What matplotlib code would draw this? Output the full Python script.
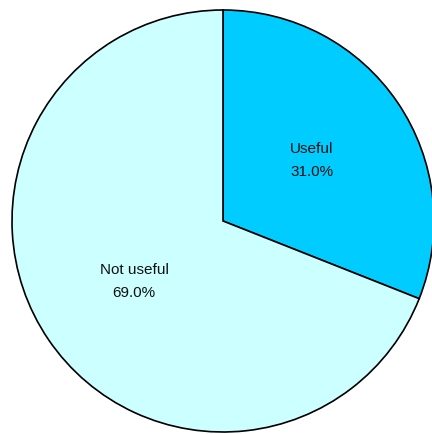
import matplotlib.pyplot as plt
import numpy as np

categories = ["Useful", "Not useful"]
shares = [31.0, 69.0]
colors = ["#00CCFF", "#CCFFFF"]

plt.rcParams["font.family"] = ["Liberation Sans", "DejaVu Sans"]

W, H = 432, 434
CX, CY, R = 223, H - 221, 211

fig = plt.figure(figsize=(W / 100, H / 100), dpi=100)
ax = fig.add_axes([0, 0, 1, 1])

wedges = ax.pie(
    shares,
    colors=colors,
    startangle=90,
    counterclock=False,
    center=(CX, CY),
    radius=R,
    wedgeprops={"edgecolor": "black", "linewidth": 1.2},
    frame=True,
)[0]
ax.set_xlim(0, W)
ax.set_ylim(0, H)
ax.set_aspect("equal")
ax.axis("off")

# labels sit about halfway out along each wedge's middle angle
for w, cat, val in zip(wedges, categories, shares):
    ang = np.deg2rad((w.theta1 + w.theta2) / 2)
    x = CX + 0.51 * R * np.cos(ang)
    y = CY + 0.51 * R * np.sin(ang)
    ax.text(x, y, f"{cat}\n{val:.1f}%", ha="center", va="center",
            fontsize=11, color="#111111", linespacing=1.85)

fig.savefig("out.png", dpi=100)
